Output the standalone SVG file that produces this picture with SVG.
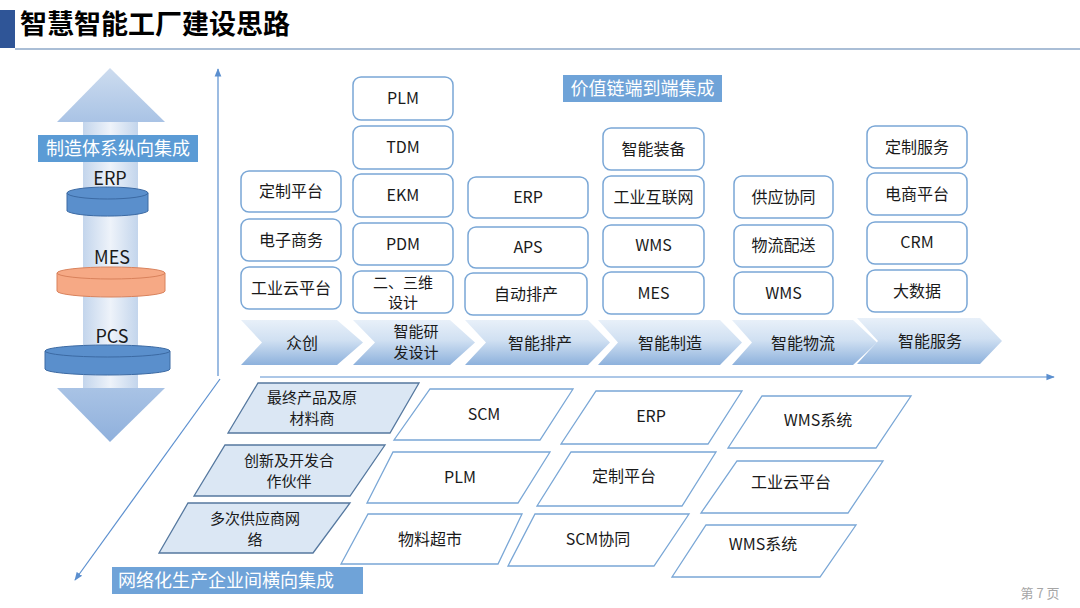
<svg xmlns="http://www.w3.org/2000/svg" width="1080" height="608" viewBox="0 0 1080 608">
<defs>
<style>
text{font-family:"Noto Sans CJK SC","Noto Sans",sans-serif;text-anchor:middle;fill:#1a1a1a}
.bx{fill:#fff;stroke:#7aa7d6;stroke-width:1.5}
.t{font-size:16px}
.t2{font-size:15px}
.lab{fill:#fff;font-size:18px}
.pw{fill:#fff;stroke:#7aa7d6;stroke-width:1.3}
.pb{fill:#dbe7f4;stroke:#55789f;stroke-width:1.3}
.ch{fill:url(#chg);stroke:none}
.ax{stroke:#5b8fcf;stroke-width:1.2;fill:none}
</style>
<linearGradient id="chg" x1="0" y1="0" x2="0" y2="1">
<stop offset="0" stop-color="#e8f0f9"/>
<stop offset="0.45" stop-color="#d0e0f2"/>
<stop offset="1" stop-color="#8db1dc"/>
</linearGradient>
<linearGradient id="shaft" x1="0" y1="0" x2="1" y2="0">
<stop offset="0" stop-color="#c3d5ec"/>
<stop offset="0.5" stop-color="#eef3fa"/>
<stop offset="1" stop-color="#c3d5ec"/>
</linearGradient>
<linearGradient id="headT" x1="0" y1="0" x2="0" y2="1">
<stop offset="0" stop-color="#cddcef"/>
<stop offset="1" stop-color="#a9c3e5"/>
</linearGradient>
<linearGradient id="headB" x1="0" y1="0" x2="0" y2="1">
<stop offset="0" stop-color="#a9c3e5"/>
<stop offset="1" stop-color="#8fb0dc"/>
</linearGradient>
<marker id="arr" viewBox="0 0 10 10" refX="9" refY="5" markerWidth="7" markerHeight="7" orient="auto-start-reverse">
<path d="M0,1 L10,5 L0,9 Z" fill="#5b8fcf"/>
</marker>
</defs>
<rect width="1080" height="608" fill="#fff"/>

<!-- Title -->
<g id="title">
<rect x="0" y="10" width="15" height="38" fill="#2f5597"/>
<line x1="15" y1="49" x2="1080" y2="49" stroke="#8ea9c8" stroke-width="1.5"/>
<text x="20" y="34" style="text-anchor:start;font-size:27px;font-weight:bold;fill:#000">智慧智能工厂建设思路</text>
</g>

<!-- Vertical integration arrow -->
<g id="vertical-arrow">
<rect x="83" y="121" width="55" height="268" fill="url(#shaft)"/>
<path d="M110,68 L165,122 L57,122 Z" fill="url(#headT)"/>
<path d="M57,388 L165,388 L110,442 Z" fill="url(#headB)"/>
<rect x="38" y="135" width="160" height="27" fill="#5b9bd5"/>
<text x="118" y="155" class="lab">制造体系纵向集成</text>
</g>

<g id="erp-cyl">
<text x="110" y="185" style="font-size:18px">ERP</text>
<path d="M67,193 L67,211 A41,6 0 0 0 148,211 L148,193 Z" fill="#5a8fcc" stroke="#3c6aa3" stroke-width="1"/>
<ellipse cx="107.5" cy="193" rx="40.5" ry="6" fill="#5a8fcc" stroke="#3c6aa3" stroke-width="1"/>
</g>
<g id="mes-cyl">
<text x="112" y="264" style="font-size:18px">MES</text>
<path d="M57,273 L57,291 A54,6 0 0 0 165,291 L165,273 Z" fill="#f6a985" stroke="#d9825c" stroke-width="1"/>
<ellipse cx="111" cy="273" rx="54" ry="6" fill="#f6a985" stroke="#d9825c" stroke-width="1"/>
</g>
<g id="pcs-cyl">
<text x="112" y="343" style="font-size:18px">PCS</text>
<path d="M45,351 L45,369 A62.5,6 0 0 0 170,369 L170,351 Z" fill="#5a8fcc" stroke="#3c6aa3" stroke-width="1"/>
<ellipse cx="107.5" cy="351" rx="62.5" ry="6" fill="#5a8fcc" stroke="#3c6aa3" stroke-width="1"/>
</g>

<!-- Axes -->
<g id="connectors">
<line class="ax" x1="218" y1="376" x2="218" y2="69" marker-end="url(#arr)"/>
<line class="ax" x1="260" y1="377" x2="1054" y2="377" marker-end="url(#arr)"/>
<line class="ax" x1="220" y1="379" x2="75" y2="580" marker-end="url(#arr)"/>
</g>

<g id="value-chain-label">
<rect x="563" y="75" width="159" height="27" fill="#6fa3d8"/>
<text x="642.5" y="95" class="lab">价值链端到端集成</text>
</g>

<!-- Column 1 -->
<g id="col1">
<rect class="bx" x="241" y="171" width="100" height="41" rx="8"/><text class="t" x="291" y="197">定制平台</text>
<rect class="bx" x="241" y="219" width="100" height="42" rx="8"/><text class="t" x="291" y="246">电子商务</text>
<rect class="bx" x="241" y="267" width="100" height="42" rx="8"/><text class="t" x="291" y="294">工业云平台</text>
</g>
<!-- Column 2 -->
<g id="col2">
<rect class="bx" x="353" y="77" width="100" height="43" rx="8"/><text class="t" x="403" y="104">PLM</text>
<rect class="bx" x="353" y="126" width="100" height="43" rx="8"/><text class="t" x="403" y="153">TDM</text>
<rect class="bx" x="353" y="174" width="100" height="43" rx="8"/><text class="t" x="403" y="201">EKM</text>
<rect class="bx" x="353" y="223" width="100" height="42" rx="8"/><text class="t" x="403" y="250">PDM</text>
<rect class="bx" x="353" y="271" width="100" height="42" rx="8"/><text class="t2" x="403" y="288">二、三维</text><text class="t2" x="403" y="308">设计</text>
</g>
<!-- Column 3 -->
<g id="col3">
<rect class="bx" x="468" y="177" width="120" height="41" rx="8"/><text class="t" x="528" y="203">ERP</text>
<rect class="bx" x="468" y="227" width="120" height="41" rx="8"/><text class="t" x="528" y="253">APS</text>
<rect class="bx" x="465" y="273" width="122" height="42" rx="8"/><text class="t" x="526" y="300">自动排产</text>
</g>
<!-- Column 4 -->
<g id="col4">
<rect class="bx" x="603" y="128" width="101" height="42" rx="8"/><text class="t" x="653.5" y="155">智能装备</text>
<rect class="bx" x="603" y="176" width="101" height="42" rx="8"/><text class="t" x="653.5" y="203">工业互联网</text>
<rect class="bx" x="603" y="225" width="101" height="42" rx="8"/><text class="t" x="653.5" y="251">WMS</text>
<rect class="bx" x="603" y="272" width="101" height="42" rx="8"/><text class="t" x="653.5" y="299">MES</text>
</g>
<!-- Column 5 -->
<g id="col5">
<rect class="bx" x="734" y="176" width="99" height="42" rx="8"/><text class="t" x="783.5" y="203">供应协同</text>
<rect class="bx" x="734" y="225" width="99" height="42" rx="8"/><text class="t" x="783.5" y="251">物流配送</text>
<rect class="bx" x="734" y="272" width="99" height="42" rx="8"/><text class="t" x="783.5" y="299">WMS</text>
</g>
<!-- Column 6 -->
<g id="col6">
<rect class="bx" x="867" y="126" width="100" height="42" rx="8"/><text class="t" x="917" y="153">定制服务</text>
<rect class="bx" x="867" y="173" width="100" height="42" rx="8"/><text class="t" x="917" y="200">电商平台</text>
<rect class="bx" x="867" y="222" width="100" height="42" rx="8"/><text class="t" x="917" y="248">CRM</text>
<rect class="bx" x="867" y="270" width="100" height="42" rx="8"/><text class="t" x="917" y="297">大数据</text>
</g>

<!-- Chevrons -->
<g id="chev1"><path class="ch" d="M241,320 L337,320 L363,342.5 L337,365 L241,365 L262,342.5 Z"/><text class="t" x="302" y="349">众创</text></g>
<g id="chev2"><path class="ch" d="M353,320 L450,320 L475,342.5 L450,365 L353,365 L375,342.5 Z"/><text class="t2" x="416" y="337">智能研</text><text class="t2" x="416" y="358">发设计</text></g>
<g id="chev3"><path class="ch" d="M465,320 L588,320 L610,342.5 L588,365 L465,365 L486,342.5 Z"/><text class="t" x="540" y="349">智能排产</text></g>
<g id="chev4"><path class="ch" d="M598,320 L720,320 L742,342.5 L720,365 L598,365 L618,342.5 Z"/><text class="t" x="670" y="349">智能制造</text></g>
<g id="chev5"><path class="ch" d="M732,320 L853,320 L877,342.5 L853,365 L732,365 L752,342.5 Z"/><text class="t" x="803" y="349">智能物流</text></g>
<g id="chev6"><path class="ch" d="M857,318 L980,318 L1002,341 L980,364 L857,364 L878,341 Z"/><text class="t" x="930" y="347">智能服务</text></g>

<!-- Bottom: category parallelograms -->
<g id="cat1"><path class="pb" d="M258,383 L419,383 L390,433 L228,433 Z"/><text class="t2" x="312" y="403">最终产品及原</text><text class="t2" x="312" y="424">材料商</text></g>
<g id="cat2"><path class="pb" d="M225,445 L385,445 L350,496 L194,496 Z"/><text class="t2" x="289" y="466">创新及开发合</text><text class="t2" x="289" y="487">作伙伴</text></g>
<g id="cat3"><path class="pb" d="M188,503 L350,503 L313,553 L159,553 Z"/><text class="t2" x="255" y="524">多次供应商网</text><text class="t2" x="255" y="545">络</text></g>

<!-- Bottom: system parallelograms -->
<g id="r1c1"><path class="pw" d="M430,389 L573,389 L540,440 L394,440 Z"/><text class="t" x="484" y="420">SCM</text></g>
<g id="r1c2"><path class="pw" d="M596,391 L742,391 L708,444 L561,444 Z"/><text class="t" x="651" y="422">ERP</text></g>
<g id="r1c3"><path class="pw" d="M762,396 L911,396 L876,448 L728,448 Z"/><text class="t" x="818" y="426">WMS系统</text></g>
<g id="r2c1"><path class="pw" d="M393,452 L550,452 L518,503 L367,503 Z"/><text class="t" x="460" y="483">PLM</text></g>
<g id="r2c2"><path class="pw" d="M571,452 L716,452 L682,506 L537,506 Z"/><text class="t" x="624" y="482">定制平台</text></g>
<g id="r2c3"><path class="pw" d="M737,461 L883,461 L848,513 L701,513 Z"/><text class="t" x="791" y="488">工业云平台</text></g>
<g id="r3c1"><path class="pw" d="M368,514 L522,514 L498,564 L341,564 Z"/><text class="t" x="430" y="545">物料超市</text></g>
<g id="r3c2"><path class="pw" d="M535,514 L689,514 L654,566 L508,566 Z"/><text class="t" x="598" y="545">SCM协同</text></g>
<g id="r3c3"><path class="pw" d="M706,525 L856,525 L820,577 L672,577 Z"/><text class="t" x="763" y="550">WMS系统</text></g>

<g id="horizontal-label">
<rect x="112" y="567" width="251" height="27" fill="#6fa3d8"/>
<text x="118" y="587" class="lab" style="text-anchor:start">网络化生产企业间横向集成</text>
</g>

<text x="1040" y="598" style="font-size:13px;fill:#a6a6a6" xml:space="preserve">第 7 页</text>
</svg>
